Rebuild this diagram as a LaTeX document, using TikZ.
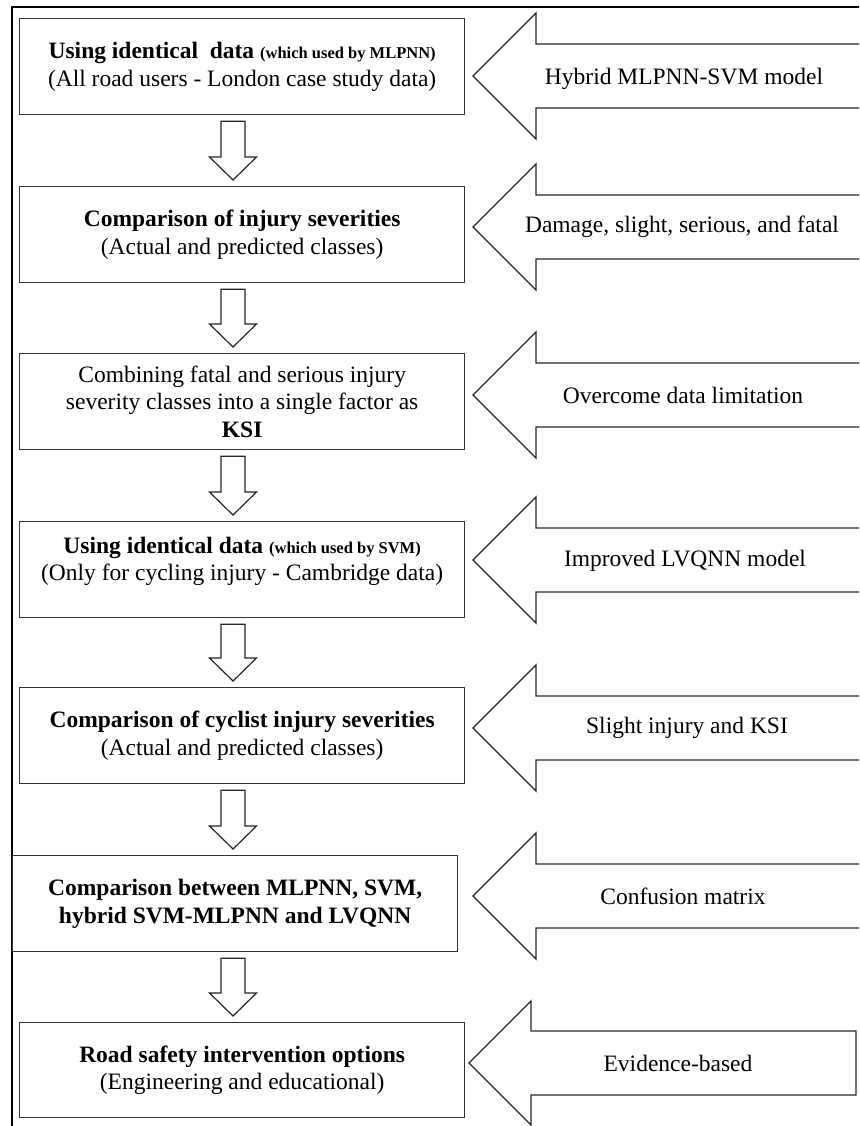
\documentclass[tikz,border=0pt]{standalone}
\usepackage{fontspec}
\setmainfont{Liberation Serif}
\usetikzlibrary{calc}
\tikzset{
  box/.style={draw=black!80, line width=1.3pt, minimum width=445pt, minimum height=96pt,
    anchor=north west, align=center, inner sep=2pt, font=\fontsize{23.5}{27.5}\selectfont},
  darr/.style={draw=black!85, line width=1.2pt, fill=white, line join=miter},
  barr/.style={draw=black!85, line width=1.3pt, line join=miter},
  lbl/.style={font=\fontsize{23.5}{27.5}\selectfont, inner sep=0pt},
  framerule/.style={line width=2pt, draw=black}
}
\newcommand\smallbold[1]{{\fontsize{16.5}{20}\selectfont\bfseries #1}}
\newcommand\bigarrow[1]{\draw[barr] (859,{#1-32}) -- (536,{#1-32}) -- (536,{#1-63}) -- (473,#1) -- (536,{#1+63}) -- (536,{#1+32}) -- (859,{#1+32});}
\newcommand\downarr[2]{\draw[darr] ($(ax |- #1.south)+(-12,6)$) -- ($(ax |- #1.south)+(12,6)$) -- ($(ax |- #2.north)+(12,-29)$) -- ($(ax |- #2.north)+(23.5,-29)$) -- ($(ax |- #2.north)+(0,-6)$) -- ($(ax |- #2.north)+(-23.5,-29)$) -- ($(ax |- #2.north)+(-12,-29)$) -- cycle;}

\begin{document}
\begin{tikzpicture}[x=1pt,y=-1pt]
\useasboundingbox (0,0) rectangle (859,1126);
\fill[white] (0,0) rectangle (859,1126);
\draw[framerule] (12,1126) -- (12,7) -- (859,7);
\coordinate (ax) at (233,0);

% boxes
\node[box] (b1) at (19,18) {\textbf{Using identical\ \ data} \smallbold{(which used by MLPNN)}\\(All road users - London case study data)};
\node[box] (b2) at (19,186) {\textbf{Comparison of injury severities}\\(Actual and predicted classes)};
\node[box] (b3) at (19,353) {Combining fatal and serious injury\\severity classes into a single factor as\\\textbf{KSI}};
\node[box, text depth=22pt] (b4) at (19,521) {\textbf{Using identical data} \smallbold{(which used by SVM)}\\(Only for cycling injury - Cambridge data)};
\node[box] (b5) at (19,687) {\textbf{Comparison of cyclist injury severities}\\(Actual and predicted classes)};
\node[box] (b6) at (12,855) {\textbf{Comparison between MLPNN, SVM,}\\\textbf{hybrid SVM-MLPNN and LVQNN}};
\node[box, minimum height=95pt] (b7) at (19,1022) {\textbf{Road safety intervention options}\\(Engineering and educational)};

% down arrows
\downarr{b1}{b2}
\downarr{b2}{b3}
\downarr{b3}{b4}
\downarr{b4}{b5}
\downarr{b5}{b6}
\downarr{b6}{b7}

% big left arrows
\bigarrow{76}
\bigarrow{227}
\bigarrow{395}
\bigarrow{560}
\bigarrow{728}
\bigarrow{896}
\draw[barr] (856,1031) -- (531,1031) -- (531,1001) -- (469,1063) -- (531,1125) -- (531,1095) -- (856,1095) -- cycle;

% labels
\node[lbl] (l1) at (684,79) {Hybrid MLPNN-SVM model};
\node[lbl] (l2) at (682,227) {Damage, slight, serious, and fatal};
\node[lbl] (l3) at (683,395) {Overcome data limitation};
\node[lbl] (l4) at (685,561) {Improved LVQNN model};
\node[lbl] (l5) at (687,728) {Slight injury and KSI};
\node[lbl] (l6) at (683,896) {Confusion matrix};
\node[lbl] (l7) at (678,1063) {Evidence-based};
\end{tikzpicture}
\end{document}
